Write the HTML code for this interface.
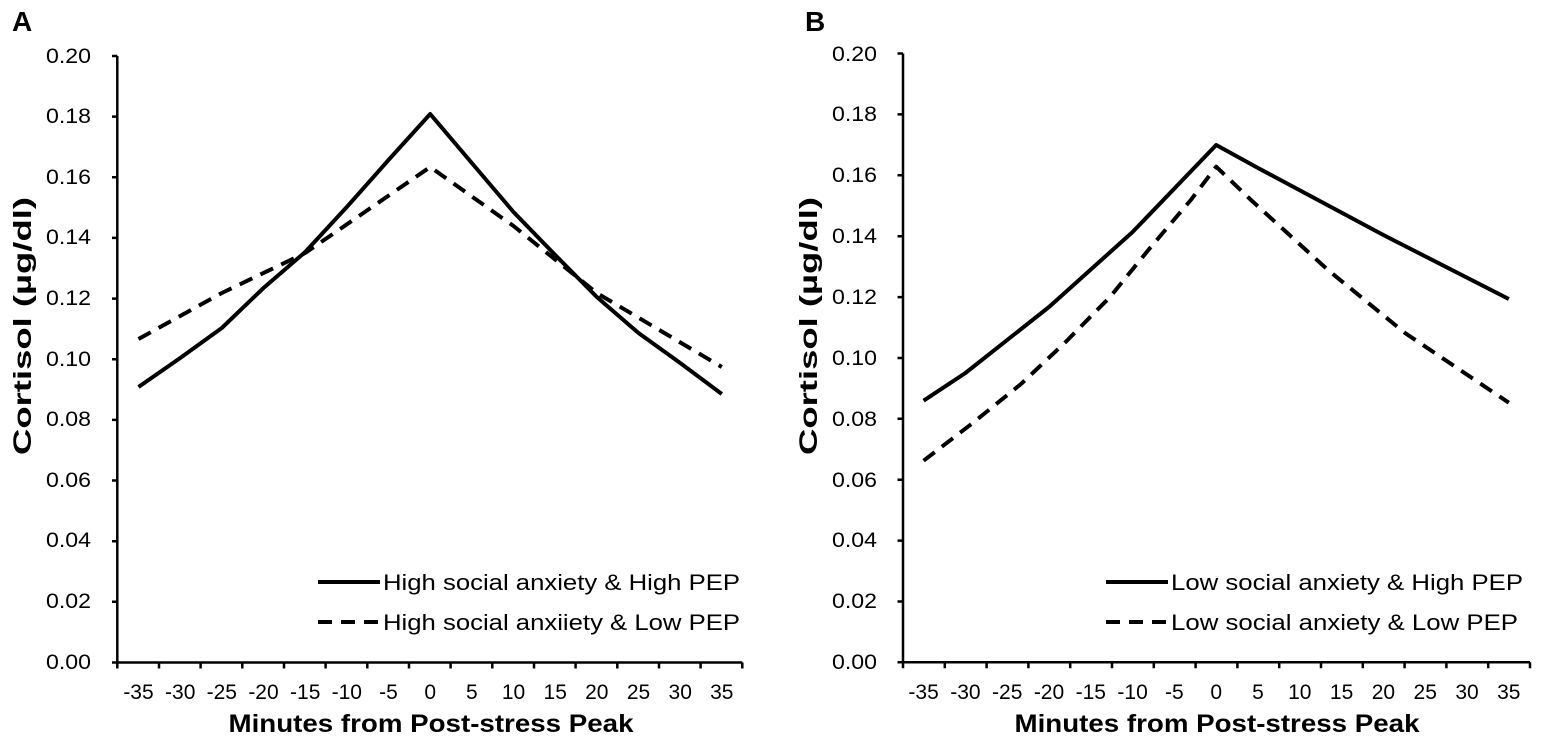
<!DOCTYPE html>
<html><head><meta charset="utf-8"><style>
html,body{margin:0;padding:0;background:#fff;}
svg text{font-family:"Liberation Sans",Arial,sans-serif;fill:#000;}
</style></head><body>
<svg width="1542" height="743" viewBox="0 0 1542 743" xmlns="http://www.w3.org/2000/svg">
<g font-size="21">
<!-- Panel A -->
<text x="12" y="31" font-size="28" font-weight="bold">A</text>
<g text-anchor="end">
<text x="91" y="63" textLength="45" lengthAdjust="spacingAndGlyphs">0.20</text><text x="91" y="123" textLength="45" lengthAdjust="spacingAndGlyphs">0.18</text><text x="91" y="184" textLength="45" lengthAdjust="spacingAndGlyphs">0.16</text>
<text x="91" y="244" textLength="45" lengthAdjust="spacingAndGlyphs">0.14</text><text x="91" y="305" textLength="45" lengthAdjust="spacingAndGlyphs">0.12</text><text x="91" y="366" textLength="45" lengthAdjust="spacingAndGlyphs">0.10</text>
<text x="91" y="426" textLength="45" lengthAdjust="spacingAndGlyphs">0.08</text><text x="91" y="487" textLength="45" lengthAdjust="spacingAndGlyphs">0.06</text><text x="91" y="547" textLength="45" lengthAdjust="spacingAndGlyphs">0.04</text>
<text x="91" y="608" textLength="45" lengthAdjust="spacingAndGlyphs">0.02</text><text x="91" y="669" textLength="45" lengthAdjust="spacingAndGlyphs">0.00</text>
</g>
<g stroke="#000" stroke-width="2.5" fill="none">
<path d="M117.3 56 V662.5 H742.3"/>
<path d="M112 56H117.3M112 116.6H117.3M112 177.3H117.3M112 237.9H117.3M112 298.6H117.3M112 359.2H117.3M112 419.9H117.3M112 480.5H117.3M112 541.2H117.3M112 601.8H117.3M112 662.5H117.3"/>
<path d="M117.3 662.5v6M159 662.5v6M200.6 662.5v6M242.3 662.5v6M284 662.5v6M325.6 662.5v6M367.3 662.5v6M409 662.5v6M450.6 662.5v6M492.3 662.5v6M534 662.5v6M575.6 662.5v6M617.3 662.5v6M659 662.5v6M700.6 662.5v6M742.3 662.5v6"/>
</g>
<g text-anchor="middle">
<text x="138.5" y="699">-35</text><text x="180.2" y="699">-30</text><text x="221.8" y="699">-25</text><text x="263.5" y="699">-20</text><text x="305.2" y="699">-15</text><text x="346.8" y="699">-10</text><text x="388.5" y="699">-5</text><text x="430.2" y="699">0</text><text x="471.8" y="699">5</text><text x="513.5" y="699">10</text><text x="555.2" y="699">15</text><text x="596.8" y="699">20</text><text x="638.5" y="699">25</text><text x="680.2" y="699">30</text><text x="721.8" y="699">35</text>
<text x="431" y="732" font-size="25" font-weight="bold" textLength="405" lengthAdjust="spacingAndGlyphs">Minutes from Post-stress Peak</text>
<text transform="translate(31,326) rotate(-90)" font-size="25" font-weight="bold" textLength="258" lengthAdjust="spacingAndGlyphs">Cortisol (µg/dl)</text>
</g>
<g stroke="#000" stroke-width="4" fill="none" stroke-linejoin="round">
<polyline points="138.5,387 180.2,358 221.8,328 263.5,288 305.2,252 346.8,207 388.5,160 430.2,114 471.8,163 513.5,212 555.2,255 596.8,297 638.5,333 680.2,363 721.8,394"/>
<polyline stroke-dasharray="14,9" points="138.5,339 221.8,293 305.2,253 430.2,167 513.5,226 596.8,293 721.8,367"/>
<line x1="318" y1="582" x2="380" y2="582"/>
<line x1="318" y1="622" x2="380" y2="622" stroke-dasharray="14,9"/>
</g>
<text x="383" y="590" font-size="22" textLength="357" lengthAdjust="spacingAndGlyphs">High social anxiety &amp; High PEP</text>
<text x="383" y="630" font-size="22" textLength="357" lengthAdjust="spacingAndGlyphs">High social anxiiety &amp; Low PEP</text>

<!-- Panel B -->
<text x="805" y="31" font-size="28" font-weight="bold">B</text>
<g text-anchor="end">
<text x="877" y="61" textLength="45" lengthAdjust="spacingAndGlyphs">0.20</text><text x="877" y="121" textLength="45" lengthAdjust="spacingAndGlyphs">0.18</text><text x="877" y="182" textLength="45" lengthAdjust="spacingAndGlyphs">0.16</text>
<text x="877" y="243" textLength="45" lengthAdjust="spacingAndGlyphs">0.14</text><text x="877" y="304" textLength="45" lengthAdjust="spacingAndGlyphs">0.12</text><text x="877" y="365" textLength="45" lengthAdjust="spacingAndGlyphs">0.10</text>
<text x="877" y="426" textLength="45" lengthAdjust="spacingAndGlyphs">0.08</text><text x="877" y="487" textLength="45" lengthAdjust="spacingAndGlyphs">0.06</text><text x="877" y="547" textLength="45" lengthAdjust="spacingAndGlyphs">0.04</text>
<text x="877" y="608" textLength="45" lengthAdjust="spacingAndGlyphs">0.02</text><text x="877" y="669" textLength="45" lengthAdjust="spacingAndGlyphs">0.00</text>
</g>
<g stroke="#000" stroke-width="2.5" fill="none">
<path d="M903 53.5 V662.3 H1530"/>
<path d="M897.5 53.5H903M897.5 114.4H903M897.5 175.3H903M897.5 236.2H903M897.5 297.1H903M897.5 358H903M897.5 418.8H903M897.5 479.7H903M897.5 540.6H903M897.5 601.5H903M897.5 662.3H903"/>
<path d="M903 662.3v6M944.8 662.3v6M986.6 662.3v6M1028.4 662.3v6M1070.2 662.3v6M1112 662.3v6M1153.8 662.3v6M1195.6 662.3v6M1237.4 662.3v6M1279.2 662.3v6M1321 662.3v6M1362.8 662.3v6M1404.6 662.3v6M1446.4 662.3v6M1488.2 662.3v6M1530 662.3v6"/>
</g>
<g text-anchor="middle">
<text x="923.6" y="699">-35</text><text x="965.4" y="699">-30</text><text x="1007.2" y="699">-25</text><text x="1049" y="699">-20</text><text x="1090.8" y="699">-15</text><text x="1132.6" y="699">-10</text><text x="1174.4" y="699">-5</text><text x="1216.2" y="699">0</text><text x="1258" y="699">5</text><text x="1299.8" y="699">10</text><text x="1341.6" y="699">15</text><text x="1383.4" y="699">20</text><text x="1425.2" y="699">25</text><text x="1467" y="699">30</text><text x="1508.8" y="699">35</text>
<text x="1217" y="732" font-size="25" font-weight="bold" textLength="405" lengthAdjust="spacingAndGlyphs">Minutes from Post-stress Peak</text>
<text transform="translate(817,326) rotate(-90)" font-size="25" font-weight="bold" textLength="258" lengthAdjust="spacingAndGlyphs">Cortisol (µg/dl)</text>
</g>
<g stroke="#000" stroke-width="4" fill="none" stroke-linejoin="round">
<polyline points="923.6,400.7 965.4,373 1049,307 1132.6,232 1216.2,145 1258,168 1383.4,235 1508.8,299"/>
<polyline stroke-dasharray="14,9" points="923.6,460.7 972.7,423 1021,384 1065.6,342 1110,297 1150,248 1190.8,200 1216.2,166.7 1251,200 1328,270 1405,333 1508.8,402.7"/>
<line x1="1106" y1="582" x2="1168" y2="582"/>
<line x1="1106" y1="622" x2="1168" y2="622" stroke-dasharray="14,9"/>
</g>
<text x="1171" y="590" font-size="22" textLength="352" lengthAdjust="spacingAndGlyphs">Low social anxiety &amp; High PEP</text>
<text x="1171" y="630" font-size="22" textLength="347" lengthAdjust="spacingAndGlyphs">Low social anxiety &amp; Low PEP</text>
</g>
</svg>
</body></html>
